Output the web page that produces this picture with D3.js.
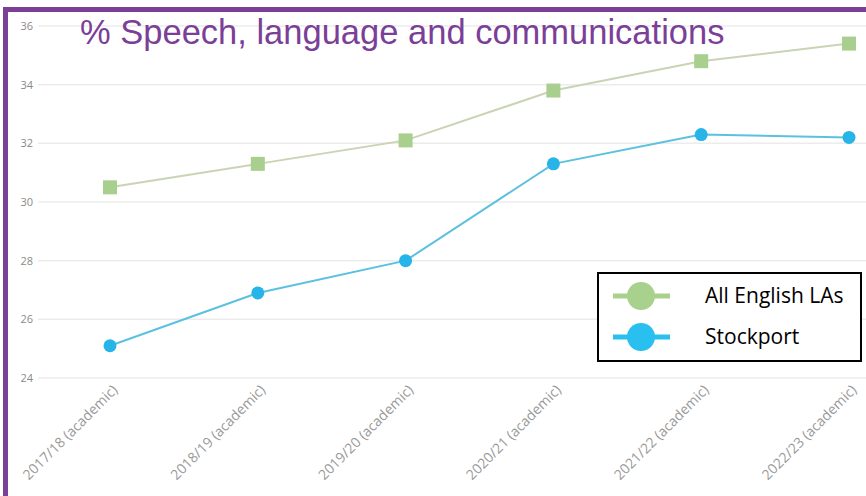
<!DOCTYPE html>
<html><head><meta charset="utf-8">
<script src="https://cdn.jsdelivr.net/npm/d3@7"></script>
<style>body{margin:0;background:#fff}svg{display:block}</style>
</head><body>
<svg id="c" width="866" height="496"></svg>
<script>
const categories = ["2017/18 (academic)","2018/19 (academic)","2019/20 (academic)","2020/21 (academic)","2021/22 (academic)","2022/23 (academic)"];
const allEnglish = [30.5, 31.3, 32.1, 33.8, 34.8, 35.4];
const stockport = [25.1, 26.9, 28.0, 31.3, 32.3, 32.2];
const yTicks = [24, 26, 28, 30, 32, 34, 36];
const seriesNames = ["All English LAs", "Stockport"];
const title = "% Speech, language and communications";

const svg = d3.select("#c");
const x = d3.scalePoint().domain(categories).range([110, 849]);
const y = d3.scaleLinear().domain([24, 36]).range([378, 26]);

// gridlines
svg.append("g").selectAll("line").data(yTicks).join("line")
  .attr("x1", 38).attr("x2", 866)
  .attr("y1", d => y(d)).attr("y2", d => y(d))
  .attr("stroke", "#ececec").attr("stroke-width", 1.5);

// y axis labels
const ya = svg.append("g").attr("transform", "translate(33,0)")
  .call(d3.axisLeft(y).tickValues(yTicks).tickSize(0).tickPadding(0));
ya.select(".domain").remove();
ya.selectAll("text").attr("fill", "#8a8a8a").attr("font-size", 11)
  .attr("font-family", "Open Sans, sans-serif");

// x axis labels
const xa = svg.append("g").attr("transform", "translate(3,386)")
  .call(d3.axisBottom(x).tickSize(0).tickPadding(0));
xa.select(".domain").remove();
xa.selectAll("text").attr("fill", "#999").attr("font-size", 14)
  .attr("font-family", "Open Sans, sans-serif")
  .attr("text-anchor", "end").attr("dy", "0.5em")
  .attr("transform", "rotate(-45)");

const line = d3.line().x((d, i) => x(categories[i])).y(d => y(d));

// All English LAs
svg.append("path").datum(allEnglish).attr("d", line)
  .attr("fill", "none").attr("stroke", "#c9d4b4").attr("stroke-width", 2);
svg.append("g").selectAll("rect").data(allEnglish).join("rect")
  .attr("x", (d, i) => x(categories[i]) - 7).attr("y", d => y(d) - 7)
  .attr("width", 14).attr("height", 14).attr("fill", "#a9cf8f");

// Stockport
svg.append("path").datum(stockport).attr("d", line)
  .attr("fill", "none").attr("stroke", "#5cc1e0").attr("stroke-width", 2);
svg.append("g").selectAll("circle").data(stockport).join("circle")
  .attr("cx", (d, i) => x(categories[i])).attr("cy", d => y(d))
  .attr("r", 6.5).attr("fill", "#27b4e9");

// title
svg.append("text").attr("x", 80).attr("y", 44).text(title)
  .attr("fill", "#7b3f98").attr("font-size", 34.5)
  .attr("font-family", "Liberation Sans, Arial, sans-serif");

// frame (purple) top and left
svg.append("rect").attr("x", 3).attr("y", 7).attr("width", 866).attr("height", 5).attr("fill", "#7b3f98");
svg.append("rect").attr("x", 3).attr("y", 7).attr("width", 5).attr("height", 496).attr("fill", "#7b3f98");

// legend
const lg = svg.append("g");
lg.append("rect").attr("x", 598).attr("y", 273).attr("width", 263).attr("height", 88)
  .attr("fill", "#fff").attr("stroke", "#000").attr("stroke-width", 2);
const legColors = ["#a9d18e", "#29bfee"];
seriesNames.forEach((n, i) => {
  const yy = 296 + i * 41;
  lg.append("line").attr("x1", 613).attr("x2", 670).attr("y1", yy).attr("y2", yy)
    .attr("stroke", legColors[i]).attr("stroke-width", 5);
  lg.append("circle").attr("cx", 641).attr("cy", yy).attr("r", 14).attr("fill", legColors[i]);
  lg.append("text").attr("x", 705).attr("y", yy + 7).text(n)
    .attr("font-size", 21).attr("fill", "#000")
    .attr("font-family", "Open Sans, sans-serif");
});
</script>
</body></html>
